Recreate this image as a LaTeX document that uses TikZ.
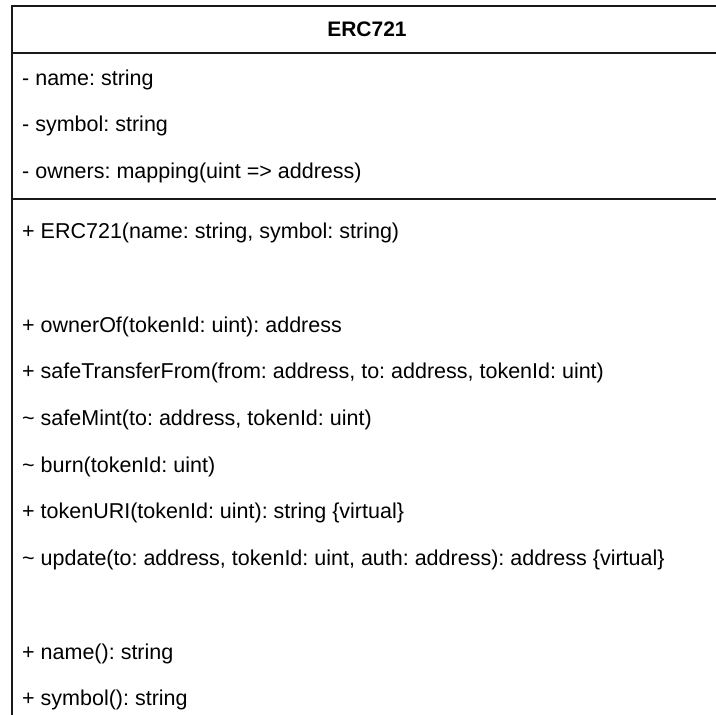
\documentclass[tikz,border=0pt]{standalone}
\usepackage{fontspec}
\setmainfont{Liberation Sans}
\frenchspacing
\tikzset{
  member/.style={anchor=base west,inner sep=0pt,font=\fontsize{21.5}{26}\selectfont},
  umlline/.style={line width=2pt,black!90},
}
\begin{document}
\begin{tikzpicture}[x=1pt,y=-1pt]
  \useasboundingbox (0,0) rectangle (716,715);
  \clip (0,0) rectangle (716,715);
  \def\L{46.7} % spacing of member rows
  \draw[umlline] (12,6) rectangle (722,740); % class box, cut at the page edge
  \draw[umlline] (12,52.7) -- (722,52.7); % name / attributes
  \draw[umlline] (12,199.3) -- (722,199.3); % attributes / operations
  \node[member,anchor=base,font=\bfseries\fontsize{21}{25}\selectfont] (title) at (367,36.7) {ERC721};
  \foreach \n/\txt in {0/{- name: string},1/{- symbol: string},
    2/{- owners: mapping(uint => address)}}{ % attributes
    \node[member] (attr-\n) at (22,85+\n*\L) {\txt};
  }
  \foreach \n/\txt in {0/{+ ERC721(name: string, symbol: string)},
    2/{+ ownerOf(tokenId: uint): address},
    3/{+ safeTransferFrom(from: address, to: address, tokenId: uint)},
    4/{\textasciitilde{} safeMint(to: address, tokenId: uint)},
    5/{\textasciitilde{} burn(tokenId: uint)},
    6/{+ tokenURI(tokenId: uint): string \{virtual\}},
    7/{\textasciitilde{} update(to: address, tokenId: uint, auth: address): address \{virtual\}},
    9/{+ name(): string},10/{+ symbol(): string}}{ % operations, gaps at 1 and 8
    \node[member] (op-\n) at (22,238.7+\n*\L) {\txt};
  }
\end{tikzpicture}
\end{document}
